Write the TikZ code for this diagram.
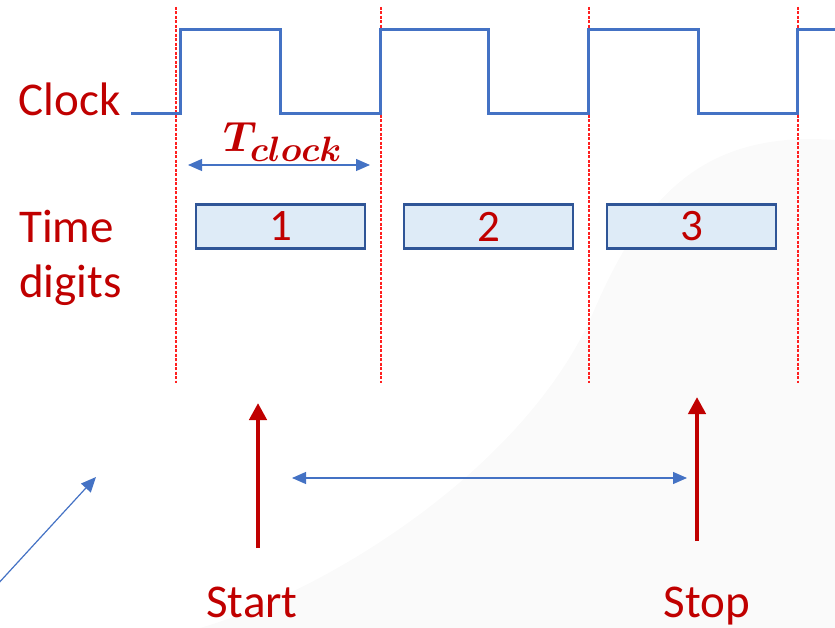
\documentclass[tikz,border=0pt]{standalone}
\usepackage{fontspec}
\setmainfont{Carlito}
\usetikzlibrary{arrows.meta}
\definecolor{dred}{HTML}{C00000}
\definecolor{wblue}{HTML}{4472C4}
\definecolor{bfill}{HTML}{DEEBF7}
\definecolor{bdraw}{HTML}{2F5597}
\definecolor{gridred}{HTML}{FF2020}
\definecolor{bggray}{HTML}{FAFAFA}
\newcommand{\tclk}{\scalebox{1.7}{\boldmath$T_{clock}$}}
\tikzset{
  lbl/.style={text=dred, font=\fontsize{47}{50}\selectfont, inner sep=0pt},
  mathlbl/.style={text=dred, font=\fontsize{24.88}{28}\selectfont, inner sep=0pt},
  digitbox/.style={draw=bdraw, line width=2.2pt, fill=bfill, minimum width=169pt, minimum height=44pt, inner sep=0pt, text=dred, font=\fontsize{45}{48}\selectfont},
  gridline/.style={draw=gridred, line width=1.1pt, dash pattern=on 3pt off 1.5pt},
  wave/.style={draw=wblue, line width=3pt, line join=miter},
  thinarrow/.style={draw=wblue, line width=1.2pt, {Triangle[length=14pt,width=12pt]}-{Triangle[length=14pt,width=12pt]}},
  onearrow/.style={draw=wblue, line width=1.2pt, -{Triangle[length=15pt,width=13pt]}},
  event/.style={draw=dred, line width=4.5pt, -{Triangle[length=17pt,width=17pt]}}
}
\begin{document}
\begin{tikzpicture}[x=1pt,y=-1pt]
\useasboundingbox (0,0) rectangle (835,628);
% faint background shape
\fill[bggray] (200,628) .. controls (330,590) and (520,470) .. (590,320)
  .. controls (640,200) and (700,130) .. (835,140) -- (835,628) -- cycle;
% dashed grid lines
\foreach \x/\n in {176/a,381/b,589/c,798/d}{
  \coordinate (g\n top) at (\x,7);
  \coordinate (g\n bot) at (\x,383);
  \draw[gridline] (g\n top) -- (g\n bot);
}
% clock waveform
\draw[wave] (131,114) -- (180,114) -- (180,30) -- (280,30) -- (280,114) -- (380,114)
  -- (380,30) -- (488,30) -- (488,114) -- (588,114) -- (588,30) -- (698,30)
  -- (698,114) -- (797,114) -- (797,30) -- (836,30);
% labels
\node[lbl, anchor=base east] (clock) at (121,116) {Clock};
\node[lbl, anchor=base west] (time) at (19,243) {Time};
\node[lbl, anchor=base west] (digits) at (19,298) {digits};
\node[mathlbl, anchor=base west] (tclock) at (223,152) {\tclk};
% period arrow
\coordinate (pl) at (188,165);
\coordinate (pr) at (370,165);
\draw[thinarrow] (pl) -- (pr);
% digit boxes
\node[digitbox] (b1) at (280.5,226.5) {1};
\node[digitbox] (b2) at (488.5,226.5) {2};
\node[digitbox] (b3) at (691.5,226.5) {3};
% start / stop
\coordinate (s0) at (258,548);
\coordinate (s1) at (258,403);
\coordinate (t0) at (697,541);
\coordinate (t1) at (697,397);
\draw[event] (s0) -- (s1);
\draw[event] (t0) -- (t1);
\node[lbl, anchor=base] (start) at (252,617) {Start};
\node[lbl, anchor=base] (stop) at (707,617) {Stop};
% interval arrow
\coordinate (il) at (292,478);
\coordinate (ir) at (687,478);
\draw[thinarrow] (il) -- (ir);
% diagonal arrow
\coordinate (d0) at (-4,586);
\coordinate (d1) at (96,477);
\draw[onearrow] (d0) -- (d1);
\end{tikzpicture}
\end{document}
